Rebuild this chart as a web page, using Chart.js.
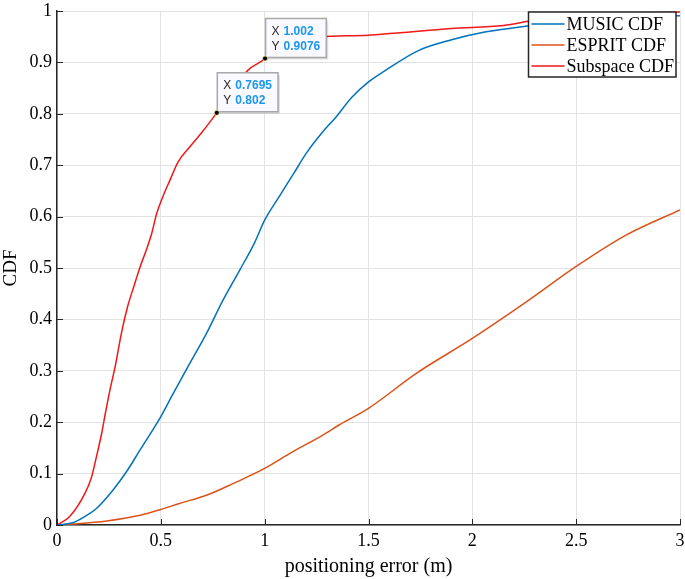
<!DOCTYPE html>
<html>
<head>
<meta charset="utf-8">
<script src="https://cdn.jsdelivr.net/npm/chart.js@4/dist/chart.umd.min.js"></script>
<style>
  html, body { margin: 0; padding: 0; background: #fff; }
  #wrap { width: 685px; height: 579px; }
</style>
</head>
<body>
<div id="wrap"><canvas id="cdf"></canvas></div>
<script>
// values
const musicX = [0, 0.08, 0.16, 0.19, 0.27, 0.34, 0.40, 0.43, 0.50, 0.56, 0.64, 0.72, 0.80, 0.88, 0.95, 1.00, 1.07, 1.14, 1.20, 1.28, 1.34, 1.42, 1.50, 1.58, 1.74, 1.90, 2.06, 2.23, 2.40, 2.60, 2.80, 3.00];
const musicY = [0, 0.005, 0.023, 0.032, 0.068, 0.107, 0.146, 0.165, 0.211, 0.256, 0.315, 0.373, 0.438, 0.496, 0.548, 0.593, 0.639, 0.684, 0.723, 0.765, 0.792, 0.832, 0.862, 0.884, 0.923, 0.944, 0.959, 0.969, 0.976, 0.982, 0.987, 0.991];

const espritX = [0, 0.08, 0.24, 0.40, 0.50, 0.59, 0.72, 0.85, 1.00, 1.12, 1.28, 1.36, 1.50, 1.73, 2.00, 2.26, 2.50, 2.74, 3.00];
const espritY = [0, 0.002, 0.008, 0.019, 0.030, 0.042, 0.058, 0.081, 0.110, 0.139, 0.175, 0.195, 0.227, 0.295, 0.363, 0.434, 0.503, 0.564, 0.613];

const subX = [0, 0.06, 0.135, 0.167, 0.19, 0.215, 0.23, 0.255, 0.28, 0.31, 0.34, 0.37, 0.40, 0.43, 0.456, 0.48, 0.51, 0.544, 0.584, 0.64, 0.70, 0.7695, 0.92, 1.002, 1.05, 1.10, 1.27, 1.50, 1.60, 1.90, 2.15, 2.30, 2.50, 2.75, 3.00];
const subY = [0, 0.016, 0.062, 0.094, 0.133, 0.178, 0.211, 0.263, 0.308, 0.373, 0.425, 0.464, 0.502, 0.535, 0.567, 0.606, 0.639, 0.671, 0.707, 0.736, 0.765, 0.802, 0.885, 0.9076, 0.93, 0.942, 0.950, 0.953, 0.956, 0.966, 0.972, 0.982, 0.990, 0.995, 0.998];

const seriesNames = ['MUSIC CDF', 'ESPRIT CDF', 'Subspace CDF'];
const xTicks = [0, 0.5, 1, 1.5, 2, 2.5, 3];
const yTicks = [0, 0.1, 0.2, 0.3, 0.4, 0.5, 0.6, 0.7, 0.8, 0.9, 1];

// data tips shown on the Subspace curve
const tipX = [0.7695, 1.002];
const tipY = [0.802, 0.9076];

const pts = (xs, ys) => xs.map((x, i) => ({ x, y: ys[i] }));
const serif = 'Liberation Serif, Times New Roman, serif';
const tipFont = 'Liberation Sans, Arial, sans-serif';
const axisDark = '#262626';

// let the tick labels hang outside the plot box, like MATLAB does
const noOverhang = s => {
    s.paddingTop = 0; s.paddingBottom = 0;
    s.paddingLeft = 0; s.paddingRight = 0;
};

// inward tick marks, MATLAB style
const inwardTicks = {
    id: 'inwardTicks',
    afterDatasetsDraw(chart) {
        const { ctx, chartArea: a, scales: { x, y } } = chart;
        ctx.save();
        ctx.strokeStyle = axisDark;
        ctx.lineWidth = 1;
        ctx.beginPath();
        xTicks.forEach(v => {
            const px = Math.round(x.getPixelForValue(v)) + 0.5;
            ctx.moveTo(px, a.bottom);
            ctx.lineTo(px, a.bottom - 6);
        });
        yTicks.forEach(v => {
            const py = Math.round(y.getPixelForValue(v)) + 0.5;
            ctx.moveTo(a.left, py);
            ctx.lineTo(a.left + 6, py);
        });
        ctx.stroke();
        ctx.restore();
    }
};

// MATLAB-like datatips
const dataTips = {
    id: 'dataTips',
    afterDatasetsDraw(chart) {
        const { ctx, scales: { x, y } } = chart;
        ctx.save();
        tipX.forEach((tx, i) => {
            const px = x.getPixelForValue(tx);
            const py = y.getPixelForValue(tipY[i]);
            const xv = String(tx), yv = String(tipY[i]);
            ctx.font = 'bold 12px ' + tipFont;
            const vw = Math.max(ctx.measureText(xv).width, ctx.measureText(yv).width);
            const w = vw + 24, h = 39;
            const bx = px + 0.5, by = py - h - 1;
            ctx.fillStyle = 'rgba(0,0,0,0.12)';
            ctx.fillRect(bx + 2, by + 2, w, h);
            ctx.fillStyle = '#f9f9ff';
            ctx.fillRect(bx, by, w, h);
            ctx.strokeStyle = '#a8a8a8';
            ctx.lineWidth = 1.5;
            ctx.strokeRect(bx, by, w, h);
            ctx.textBaseline = 'middle';
            [['X', xv, by + 13], ['Y', yv, by + 28]].forEach(([k, v, ly]) => {
                ctx.font = '12px ' + tipFont;
                ctx.fillStyle = axisDark;
                ctx.fillText(k, bx + 6, ly);
                ctx.font = 'bold 12px ' + tipFont;
                ctx.fillStyle = '#1a98ee';
                ctx.fillText(v, bx + 18, ly);
            });
            ctx.beginPath();
            ctx.arc(px, py, 2.5, 0, Math.PI * 2);
            ctx.fillStyle = '#000';
            ctx.fill();
            ctx.strokeStyle = '#f3e9a0';
            ctx.lineWidth = 0.8;
            ctx.stroke();
        });
        ctx.restore();
    }
};

// boxed legend in the top-right corner
const boxLegend = {
    id: 'boxLegend',
    afterDraw(chart) {
        const { ctx, chartArea: a } = chart;
        const sets = chart.data.datasets;
        ctx.save();
        ctx.font = '18px ' + serif;
        const tw = Math.max(...sets.map(s => ctx.measureText(s.label).width));
        const w = 38 + tw + 2, h = 65;
        const bx = a.right - w - 4, by = a.top + 1;
        ctx.fillStyle = '#fff';
        ctx.fillRect(bx, by, w, h);
        ctx.strokeStyle = axisDark;
        ctx.lineWidth = 1.5;
        ctx.strokeRect(bx, by, w, h);
        sets.forEach((s, i) => {
            const ly = by + 12 + i * 21;
            ctx.strokeStyle = s.borderColor;
            ctx.lineWidth = 1.5;
            ctx.beginPath();
            ctx.moveTo(bx + 3, ly);
            ctx.lineTo(bx + 36, ly);
            ctx.stroke();
            ctx.fillStyle = '#000';
            ctx.textBaseline = 'middle';
            ctx.fillText(s.label, bx + 38, ly + 1);
        });
        ctx.restore();
    }
};

const line = (label, data, color) => ({
    label, data,
    borderColor: color,
    borderWidth: 1.5,
    pointRadius: 0,
    fill: false,
    cubicInterpolationMode: 'monotone'
});

new Chart(document.getElementById('cdf'), {
    type: 'line',
    data: {
        datasets: [
            line(seriesNames[0], pts(musicX, musicY), '#0072BD'),
            line(seriesNames[1], pts(espritX, espritY), '#D95319'),
            line(seriesNames[2], pts(subX, subY), '#F01818')
        ]
    },
    options: {
        responsive: true,
        maintainAspectRatio: false,
        animation: false,
        layout: { padding: { top: 11, right: 5, left: 0, bottom: 0 } },
        plugins: { legend: { display: false }, tooltip: { enabled: false } },
        scales: {
            x: {
                type: 'linear', min: 0, max: 3,
                afterBuildTicks: s => { s.ticks = xTicks.map(v => ({ value: v })); },
                afterFit: s => { s.height = 54; noOverhang(s); },
                grid: { color: '#e3e3e3', drawTicks: false },
                border: { color: axisDark, width: 1.5 },
                ticks: {
                    color: '#000', padding: 5,
                    font: { family: serif, size: 18 },
                    callback: v => String(v)
                },
                title: {
                    display: true, text: 'positioning error (m)', color: '#000',
                    font: { family: serif, size: 20 }, padding: { top: 0, bottom: 0 }
                }
            },
            y: {
                type: 'linear', min: 0, max: 1,
                afterBuildTicks: s => { s.ticks = yTicks.map(v => ({ value: v })); },
                afterFit: s => { s.width = 57; noOverhang(s); },
                grid: { color: '#e3e3e3', drawTicks: false },
                border: { color: axisDark, width: 1.5 },
                ticks: {
                    color: '#000', padding: 5,
                    font: { family: serif, size: 18 },
                    callback: v => String(Math.round(v * 10) / 10)
                },
                title: {
                    display: true, text: 'CDF', color: '#000',
                    font: { family: serif, size: 19 }, padding: { top: 0, bottom: 0 }
                }
            }
        }
    },
    plugins: [inwardTicks, dataTips, boxLegend]
});
</script>
</body>
</html>
